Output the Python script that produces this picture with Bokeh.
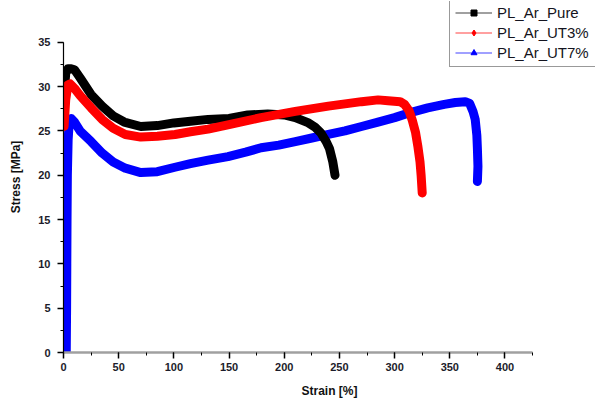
from bokeh.plotting import figure
from bokeh.models import (Range1d, SingleIntervalTicker, ColumnDataSource, Legend, LegendItem)
from bokeh.embed import file_html
from bokeh.resources import INLINE

# ---- data ----
pure_strain = [0.5, 2, 4, 7, 10, 15, 25, 35, 45, 55, 70, 85, 100, 115, 131, 150, 167, 185,
               200, 210, 222, 228, 233, 238, 241, 244, 246]
pure_stress = [29.0, 31.5, 32.0, 32.0, 31.9, 31.0, 29.1, 27.8, 26.7, 26.0, 25.5, 25.6, 25.9,
               26.1, 26.3, 26.4, 26.8, 26.9, 26.8, 26.5, 25.9, 25.4, 24.8, 23.8, 23.0, 21.5, 20.0]

ut3_strain = [0.5, 2, 4, 6, 10, 15, 25, 35, 45, 56, 70, 85, 101, 115, 131, 150, 179, 210, 240,
              270, 285, 294, 305, 309, 313, 316, 319, 321, 323, 324, 325]
ut3_stress = [25.5, 28.5, 30.2, 30.3, 29.8, 29.0, 27.6, 26.3, 25.3, 24.6, 24.3, 24.4, 24.6,
              24.9, 25.2, 25.7, 26.5, 27.2, 27.8, 28.3, 28.5, 28.4, 28.3, 28.0, 27.3, 26.2,
              24.8, 23.3, 21.5, 20.0, 18.0]

ut7_strain = [2.5, 2.8, 3.0, 3.2, 3.5, 4.2, 5.2, 7, 10, 15, 25, 35, 45, 56, 70, 85, 101, 115, 131,
              149, 165, 179, 195, 210, 225, 240, 255, 270, 285, 300, 315, 330, 345, 355, 364,
              368, 371, 373, 374.5, 375, 375.5, 375]
ut7_stress = [0.0, 5.0, 10.0, 15.0, 20.0, 24.0, 26.0, 26.4, 26.0, 25.0, 23.8, 22.5, 21.5, 20.8,
              20.3, 20.4, 20.9, 21.3, 21.7, 22.1, 22.6, 23.1, 23.4, 23.8, 24.2, 24.6, 25.0,
              25.5, 26.0, 26.5, 27.1, 27.6, 28.0, 28.2, 28.3, 28.1, 27.2, 26.3, 24.5, 23.0,
              21.0, 19.3]

labels = ["PL_Ar_Pure", "PL_Ar_UT3%", "PL_Ar_UT7%"]
x_label = "Strain [%]"
y_label = "Stress [MPa]"
x_axis_end = 425
y_axis_end = 35

FONT = "Liberation Sans"

# frame extends beyond the drawn axes so the legend can sit above/right of them
p = figure(width=598, height=400, output_backend="svg", toolbar_location=None,
           x_range=Range1d(0, 482), y_range=Range1d(0, 39.6),
           min_border_left=63, min_border_top=1, min_border_right=3, min_border_bottom=48)
p.outline_line_color = None
p.xgrid.visible = False
p.ygrid.visible = False
p.background_fill_color = "white"
p.border_fill_color = "white"

# curves: blue under, then black, red on top
p.line(ut7_strain, ut7_stress, line_color="#0000ff", line_width=9, line_join="round", line_cap="round")
p.line(pure_strain, pure_stress, line_color="#000000", line_width=9, line_join="round", line_cap="round")
p.line(ut3_strain, ut3_stress, line_color="#ff0000", line_width=9, line_join="round", line_cap="round")

# axes
xa = p.xaxis[0]
ya = p.yaxis[0]
xa.bounds = (0, x_axis_end)
ya.bounds = (0, y_axis_end)
xa.ticker = SingleIntervalTicker(interval=50, num_minor_ticks=2)
ya.ticker = SingleIntervalTicker(interval=5, num_minor_ticks=2)
for ax in (xa, ya):
    ax.major_tick_in = 0
    ax.major_tick_out = 6
    ax.minor_tick_in = 0
    ax.minor_tick_out = 3
    ax.major_tick_line_color = "#000000"
    ax.minor_tick_line_color = "#000000"
    ax.major_tick_line_width = 1.5
    ax.minor_tick_line_width = 1
    ax.major_label_text_font = FONT
    ax.major_label_text_font_style = "bold"
    ax.major_label_text_font_size = "11px"
    ax.major_label_text_color = "#1c1c2a"
    ax.axis_label_text_font = FONT
    ax.axis_label_text_font_style = "bold"
    ax.axis_label_text_font_size = "12px"
    ax.axis_label_text_color = "#111111"
xa.axis_line_color = "#a0a0a0"
xa.axis_line_width = 2.5
ya.axis_line_color = "#000000"
ya.axis_line_width = 1.2
xa.axis_label = x_label
ya.axis_label = y_label
xa.major_label_standoff = 4
xa.axis_label_standoff = 10
ya.major_label_standoff = 7
ya.axis_label_standoff = 12

# legend-only renderers (a single point far outside the visible ranges)
def offscreen():
    return ColumnDataSource(data=dict(x=[-1000.0], y=[-1000.0]))

l1 = p.line("x", "y", source=offscreen(), line_color="#808080", line_width=1.5)
m1 = p.scatter("x", "y", source=offscreen(), marker="square", size=8, fill_color="black", line_color="black")
l2 = p.line("x", "y", source=offscreen(), line_color="#ff8080", line_width=1.5)
m2 = p.scatter("x", "y", source=offscreen(), marker="diamond", size=9, fill_color="red", line_color="red")
l3 = p.line("x", "y", source=offscreen(), line_color="#8080ff", line_width=1.5)
m3 = p.scatter("x", "y", source=offscreen(), marker="triangle", size=9, fill_color="blue", line_color="blue")

legend = Legend(items=[LegendItem(label=labels[0], renderers=[l1, m1]),
                       LegendItem(label=labels[1], renderers=[l2, m2]),
                       LegendItem(label=labels[2], renderers=[l3, m3])],
                location=(386, 285), orientation="vertical",
                border_line_color="#333333", border_line_width=1,
                background_fill_color="white", background_fill_alpha=1,
                padding=5, spacing=3, margin=0,
                glyph_width=37, glyph_height=15, label_height=15, label_standoff=5,
                label_width=130,
                label_text_font=FONT, label_text_font_size="15px",
                label_text_color="#141420")
p.add_layout(legend, "center")

open("out.html", "w").write(file_html(p, INLINE))
